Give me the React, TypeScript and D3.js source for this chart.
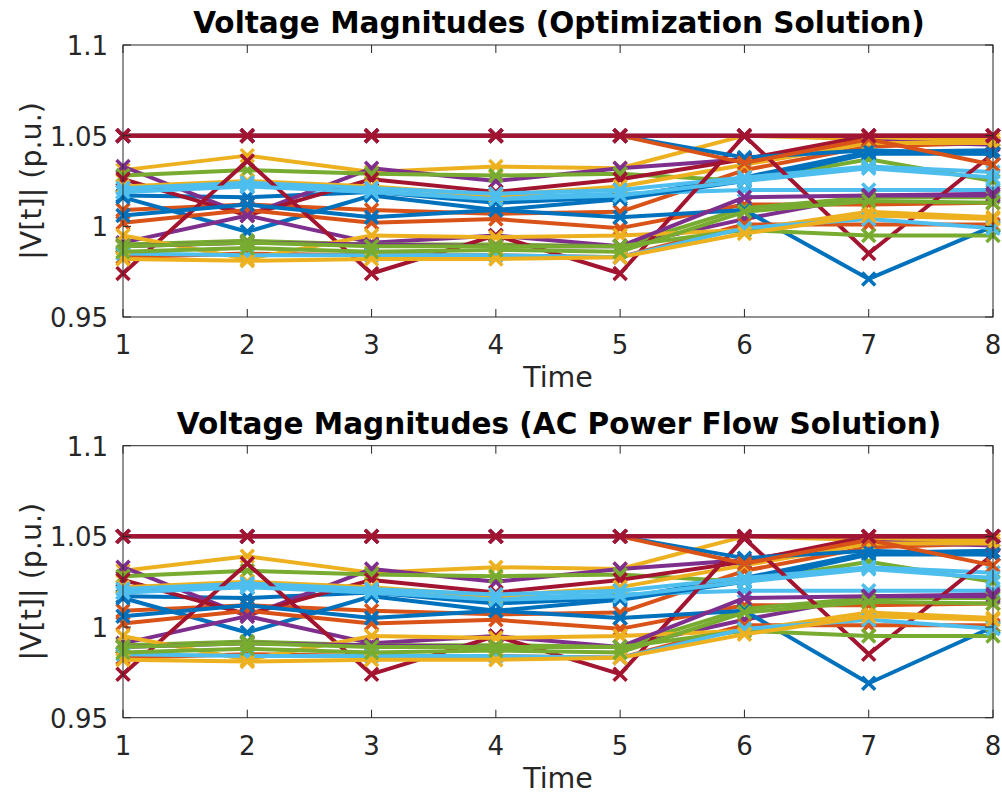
import React from 'react';
import * as d3 from 'd3';

const times = [1, 2, 3, 4, 5, 6, 7, 8];
const yTicks = [0.95, 1, 1.05, 1.1];
const palette = ['#0072BD', '#D95319', '#EDB120', '#7E2F8E', '#77AC30', '#4DBEEE', '#A2142F'];
const titles = ['Voltage Magnitudes (Optimization Solution)', 'Voltage Magnitudes (AC Power Flow Solution)'];
const xLabel = 'Time';
const yLabel = '|V[t]| (p.u.)';

// Voltage magnitudes per bus (rows) over time 1..8 (columns) — optimization solution
const optV: number[][] = [
  [1.017, 1.016, 1.019, 1.013, 1.016, 1.027, 1.041, 1.042],
  [1.009, 1.012, 1.009, 1.007, 1.008, 1.031, 1.044, 1.046],
  [1.031, 1.039, 1.030, 1.033, 1.032, 1.050, 1.048, 1.048],
  [1.033, 1.006, 1.032, 1.025, 1.032, 1.037, 1.047, 1.045],
  [1.028, 1.031, 1.029, 1.028, 1.029, 1.025, 1.037, 1.025],
  [1.019, 1.023, 1.019, 1.016, 1.018, 1.020, 1.020, 1.020],
  [1.026, 1.006, 1.026, 1.019, 1.026, 1.037, 1.050, 1.050],
  [1.016, 0.997, 1.017, 1.009, 1.015, 1.025, 1.040, 1.040],
  [1.002, 1.009, 1.002, 1.004, 0.999, 1.012, 1.012, 1.013],
  [1.022, 1.025, 1.022, 1.017, 1.022, 1.034, 1.046, 1.046],
  [0.991, 1.006, 0.991, 0.995, 0.989, 1.004, 1.017, 1.018],
  [0.990, 0.992, 0.990, 0.990, 0.989, 1.010, 1.016, 1.016],
  [1.021, 1.024, 1.021, 1.018, 1.020, 1.027, 1.033, 1.030],
  [0.974, 1.036, 0.974, 0.995, 0.974, 1.050, 0.985, 1.040],
  [1.006, 1.012, 1.005, 1.009, 1.005, 1.009, 0.971, 1.000],
  [0.983, 0.985, 0.984, 0.984, 0.983, 1.001, 1.001, 1.001],
  [0.995, 0.982, 0.995, 0.994, 0.995, 0.998, 1.008, 1.005],
  [0.989, 0.991, 0.990, 0.989, 0.989, 1.016, 1.017, 1.017],
  [0.989, 0.991, 0.989, 0.989, 0.989, 0.998, 0.995, 0.995],
  [0.985, 0.984, 0.984, 0.984, 0.983, 0.999, 1.004, 0.999],
  [1.050, 1.050, 1.050, 1.050, 1.050, 1.050, 1.050, 1.050],
  [1.050, 1.050, 1.050, 1.050, 1.050, 1.038, 1.042, 1.040],
  [1.050, 1.050, 1.050, 1.050, 1.050, 1.035, 1.048, 1.034],
  [0.982, 0.981, 0.982, 0.982, 0.983, 0.996, 1.006, 1.004],
  [1.050, 1.050, 1.050, 1.050, 1.050, 1.050, 1.050, 1.050],
  [0.986, 0.988, 0.986, 0.987, 0.986, 1.008, 1.014, 1.013],
  [1.019, 1.022, 1.019, 1.015, 1.017, 1.025, 1.032, 1.027],
  [1.050, 1.050, 1.050, 1.050, 1.050, 1.050, 1.050, 1.050],
];

// Voltage magnitudes — AC power flow solution
const acV: number[][] = [
  [1.017, 1.016, 1.019, 1.013, 1.016, 1.027, 1.041, 1.042],
  [1.009, 1.012, 1.009, 1.007, 1.008, 1.031, 1.044, 1.046],
  [1.031, 1.039, 1.030, 1.033, 1.032, 1.050, 1.048, 1.048],
  [1.033, 1.006, 1.032, 1.025, 1.032, 1.037, 1.047, 1.045],
  [1.028, 1.031, 1.029, 1.028, 1.029, 1.025, 1.036, 1.025],
  [1.019, 1.023, 1.019, 1.016, 1.018, 1.020, 1.020, 1.020],
  [1.026, 1.007, 1.026, 1.019, 1.026, 1.036, 1.050, 1.050],
  [1.016, 0.997, 1.017, 1.009, 1.015, 1.025, 1.040, 1.040],
  [1.002, 1.009, 1.002, 1.004, 0.999, 1.012, 1.012, 1.013],
  [1.022, 1.025, 1.022, 1.017, 1.022, 1.034, 1.046, 1.046],
  [0.991, 1.006, 0.991, 0.995, 0.989, 1.004, 1.017, 1.018],
  [0.990, 0.992, 0.990, 0.990, 0.989, 1.010, 1.016, 1.016],
  [1.021, 1.024, 1.021, 1.018, 1.020, 1.027, 1.033, 1.030],
  [0.974, 1.035, 0.974, 0.995, 0.974, 1.049, 0.985, 1.040],
  [1.006, 1.012, 1.005, 1.009, 1.005, 1.009, 0.969, 1.000],
  [0.983, 0.985, 0.984, 0.984, 0.983, 1.001, 1.001, 1.001],
  [0.995, 0.982, 0.995, 0.994, 0.995, 0.998, 1.008, 1.005],
  [0.989, 0.991, 0.990, 0.989, 0.989, 1.016, 1.017, 1.017],
  [0.989, 0.991, 0.989, 0.989, 0.989, 0.998, 0.995, 0.995],
  [0.985, 0.984, 0.984, 0.984, 0.983, 0.999, 1.004, 0.999],
  [1.050, 1.050, 1.050, 1.050, 1.050, 1.050, 1.050, 1.050],
  [1.050, 1.050, 1.050, 1.050, 1.050, 1.038, 1.042, 1.040],
  [1.050, 1.050, 1.050, 1.050, 1.050, 1.035, 1.048, 1.034],
  [0.982, 0.981, 0.982, 0.982, 0.983, 0.996, 1.006, 1.004],
  [1.050, 1.050, 1.050, 1.050, 1.050, 1.050, 1.050, 1.050],
  [0.986, 0.988, 0.986, 0.987, 0.986, 1.008, 1.014, 1.013],
  [1.019, 1.022, 1.019, 1.015, 1.017, 1.025, 1.032, 1.027],
  [1.050, 1.050, 1.050, 1.050, 1.050, 1.050, 1.050, 1.050],
];

const FONT = '"DejaVu Sans", sans-serif';
const AX_LEFT = 123;
const AX_RIGHT = 993;
const AX_H = 272;
const AXIS_COLOR = '#262626';
const TICK_FS = 26;
const LABEL_FS = 28.5;
const TITLE_FS = 29.5;

function Panel({ top, title, data }: { top: number; title: string; data: number[][] }) {
  const x = d3.scaleLinear().domain([1, 8]).range([AX_LEFT, AX_RIGHT]);
  const y = d3.scaleLinear().domain([0.95, 1.1]).range([top + AX_H, top]);
  const line = d3
    .line<number>()
    .x((_, i) => x(times[i]))
    .y((d) => y(d));
  const color = d3.scaleOrdinal<number, string>().domain(d3.range(7)).range(palette);
  const ms = 6.5;
  const tl = 8;
  const bottom = top + AX_H;
  const cid = `clip${Math.round(top)}`;
  return (
    <g>
      <defs>
        <clipPath id={cid}>
          <rect x={AX_LEFT - 12} y={top - 12} width={AX_RIGHT - AX_LEFT + 24} height={AX_H + 24} />
        </clipPath>
      </defs>
      <g clipPath={`url(#${cid})`}>
        {data.map((s, i) => (
          <g key={i} stroke={color(i % 7)} fill="none">
            <path d={line(s) || ''} strokeWidth={4} strokeLinejoin="round" />
            {s.map((v, j) => {
              const cx = x(times[j]);
              const cy = y(v);
              return (
                <path
                  key={j}
                  d={`M${cx - ms},${cy - ms}L${cx + ms},${cy + ms}M${cx - ms},${cy + ms}L${cx + ms},${cy - ms}`}
                  strokeWidth={3.5}
                />
              );
            })}
          </g>
        ))}
      </g>
      <rect x={AX_LEFT} y={top} width={AX_RIGHT - AX_LEFT} height={AX_H} fill="none" stroke={AXIS_COLOR} strokeWidth={1} />
      {times.map((t) => (
        <g key={t}>
          <line x1={x(t)} x2={x(t)} y1={bottom} y2={bottom - tl} stroke={AXIS_COLOR} />
          <line x1={x(t)} x2={x(t)} y1={top} y2={top + tl} stroke={AXIS_COLOR} />
          <text x={x(t)} y={bottom + 37} textAnchor="middle" fontSize={TICK_FS} fill={AXIS_COLOR} fontFamily={FONT}>
            {t}
          </text>
        </g>
      ))}
      {yTicks.map((v) => (
        <g key={v}>
          <line x1={AX_LEFT} x2={AX_LEFT + tl} y1={y(v)} y2={y(v)} stroke={AXIS_COLOR} />
          <line x1={AX_RIGHT} x2={AX_RIGHT - tl} y1={y(v)} y2={y(v)} stroke={AXIS_COLOR} />
          <text x={AX_LEFT - 15} y={y(v) + 10} textAnchor="end" fontSize={TICK_FS} fill={AXIS_COLOR} fontFamily={FONT}>
            {d3.format('~g')(v)}
          </text>
        </g>
      ))}
      <text x={(AX_LEFT + AX_RIGHT) / 2 + 1} y={top - 12} textAnchor="middle" fontSize={TITLE_FS} fontWeight="bold" fill="#000" fontFamily={FONT}>
        {title}
      </text>
      <text x={(AX_LEFT + AX_RIGHT) / 2} y={bottom + 70} textAnchor="middle" fontSize={LABEL_FS} fill={AXIS_COLOR} fontFamily={FONT}>
        {xLabel}
      </text>
      <text
        transform={`translate(41,${top + AX_H / 2}) rotate(-90)`}
        textAnchor="middle"
        fontSize={LABEL_FS}
        fill={AXIS_COLOR}
        fontFamily={FONT}
      >
        {yLabel}
      </text>
    </g>
  );
}

export default function App() {
  return (
    <svg
      width={1002}
      height={796}
      style={{ position: 'absolute', left: 0, top: 0, background: '#fff' }}
      xmlns="http://www.w3.org/2000/svg"
    >
      <rect width={1002} height={796} fill="#fff" />
      <Panel top={45} title={titles[0]} data={optV} />
      <Panel top={445.7} title={titles[1]} data={acV} />
    </svg>
  );
}
